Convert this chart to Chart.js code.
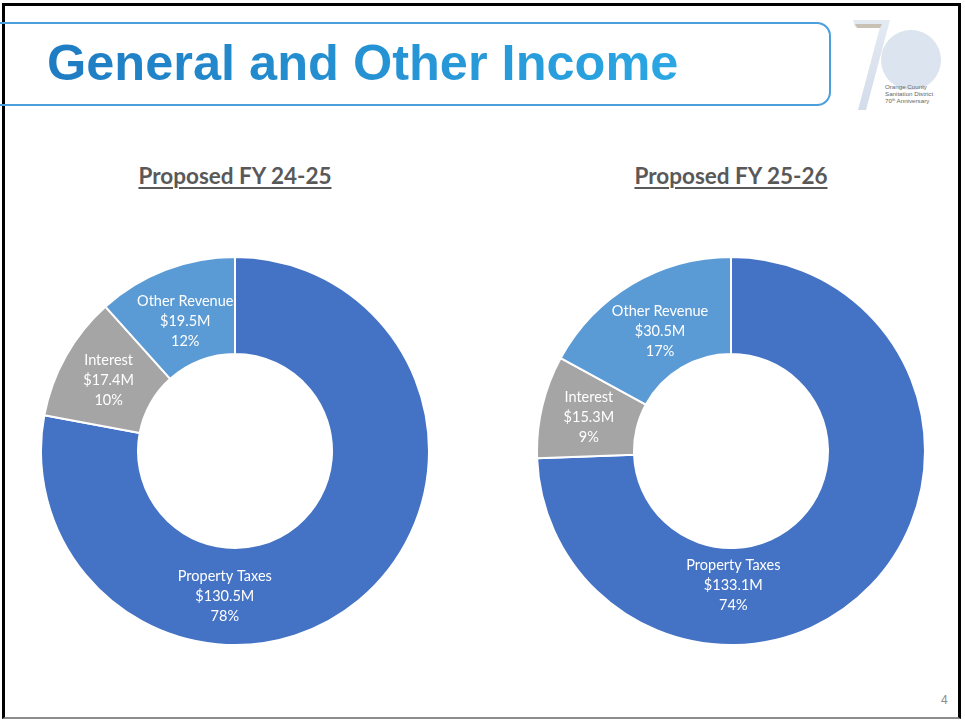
<!DOCTYPE html>
<html>
<head>
<meta charset="utf-8">
<script src="https://cdn.jsdelivr.net/npm/chart.js@4"></script>
<style>
  html, body { margin: 0; padding: 0; background: #fff; }
  body { width: 965px; height: 721px; position: relative; overflow: hidden; font-family: Lato, "Open Sans", sans-serif; }
  .frame { position: absolute; left: 2px; top: 3px; width: 959px; height: 716px; border-left: 3px solid #000; border-top: 3px solid #000; border-right: 3px solid #000; border-bottom: 2px solid #8c8c8c; box-sizing: border-box; }
  .titlebox { position: absolute; left: -20px; top: 22px; width: 851px; height: 84px; border: 2px solid #4a9fdc; border-radius: 14px; box-sizing: border-box; }
  .title { position: absolute; left: 47px; top: 38px; margin: 0; font-family: "Liberation Sans", Arial, sans-serif; font-weight: bold; font-size: 50.5px; line-height: 50px; white-space: nowrap;
    background: linear-gradient(90deg, #1f7cc2, #2ba7e3); -webkit-background-clip: text; background-clip: text; color: transparent; }
  .sub { position: absolute; top: 162px; width: 300px; margin: 0; text-align: center; font-family: Lato, sans-serif; font-weight: bold; font-size: 22.5px; color: #595959; }
  .sub span { text-decoration: underline; text-underline-offset: 3px; text-decoration-thickness: 2px; }
  .chart { position: absolute; width: 390px; height: 390px; }
  .pageno { position: absolute; left: 941px; top: 693px; font-family: "Liberation Sans", sans-serif; font-size: 12px; color: #8c8c8c; }
  .logo { position: absolute; left: 846px; top: 14px; }
</style>
</head>
<body>
<div class="frame"></div>
<div class="titlebox"></div>
<h1 class="title">General and Other Income</h1>

<svg class="logo" width="110" height="100" viewBox="846 14 110 100">
  <defs>
    <linearGradient id="g7" x1="0" y1="0" x2="0" y2="1">
      <stop offset="0" stop-color="#e4eaf2"/>
      <stop offset="1" stop-color="#d3dcea"/>
    </linearGradient>
  </defs>
  <circle cx="911" cy="60" r="30" fill="#dce4ef"/>
  <polygon points="853,20 890,20 866,110 858,110 880,27 855,27" fill="url(#g7)"/>
  <polygon points="855,24 882,24 880,28 857,28" fill="#c9c2b4"/>
  <text x="885" y="89" font-family="Liberation Sans" font-size="6.2" fill="#666">Orange County</text>
  <text x="885" y="96" font-family="Liberation Sans" font-size="6.2" fill="#666">Sanitation District</text>
  <text x="885" y="103" font-family="Liberation Sans" font-size="6.2" fill="#666">70<tspan font-size="4" dy="-2">th</tspan><tspan dy="2"> Anniversary</tspan></text>
</svg>

<div class="sub" style="left:85px;"><span>Proposed FY 24-25</span></div>
<div class="sub" style="left:581px;"><span>Proposed FY 25-26</span></div>

<div class="chart" style="left:40px; top:256px;"><canvas id="donut1"></canvas></div>
<div class="chart" style="left:536px; top:256px;"><canvas id="donut2"></canvas></div>

<div class="pageno">4</div>

<script>
const categorias = ["Property Taxes", "Interest", "Other Revenue"];
const valoresFY2425 = [130.5, 17.4, 19.5];
const valoresFY2526 = [133.1, 15.3, 30.5];

// Cores no estilo Office
const cores = ["#4472C4", "#A5A5A5", "#5B9BD5"];

// Rótulos dentro das fatias (nome, valor, percentual)
const rotulosFatias = {
    id: "rotulosFatias",
    afterDatasetsDraw(chart, args, opts) {
        const ctx = chart.ctx;
        const ds = chart.data.datasets[0];
        const total = ds.data.reduce((a, b) => a + b, 0);
        const meta = chart.getDatasetMeta(0);
        ctx.save();
        ctx.fillStyle = "#ffffff";
        ctx.font = "14.5px Lato, 'Open Sans', sans-serif";
        ctx.textAlign = "center";
        ctx.textBaseline = "middle";
        meta.data.forEach((arc, i) => {
            const p = arc.getProps(["x", "y", "startAngle", "endAngle", "innerRadius", "outerRadius"], true);
            let ang = (p.startAngle + p.endAngle) / 2;
            const ajuste = opts.angulos ? opts.angulos[i] : null;
            if (ajuste != null) ang = (ajuste - 90) * Math.PI / 180;
            const r = (opts.raios && opts.raios[i]) ? opts.raios[i] : (p.innerRadius + p.outerRadius) / 2;
            const x = p.x + r * Math.cos(ang);
            const y = p.y + r * Math.sin(ang);
            const v = ds.data[i];
            const linhas = [
                chart.data.labels[i],
                "$" + v.toFixed(1) + "M",
                Math.round(v / total * 100) + "%"
            ];
            linhas.forEach((t, k) => ctx.fillText(t, x, y + (k - 1) * 20));
        });
        ctx.restore();
    }
};

function criarDonut(id, valores, angulos, raios) {
    const ctx = document.getElementById(id).getContext("2d");
    return new Chart(ctx, {
        type: "doughnut",
        data: {
            labels: categorias,
            datasets: [{
                data: valores,
                backgroundColor: cores,
                borderColor: "#ffffff",
                borderWidth: 2
            }]
        },
        options: {
            responsive: true,
            maintainAspectRatio: false,
            animation: false,
            cutout: "50%",
            layout: { padding: 0 },
            plugins: {
                legend: { display: false },
                tooltip: { enabled: false },
                rotulosFatias: { angulos, raios }
            }
        },
        plugins: [rotulosFatias]
    });
}

criarDonut("donut1", valoresFY2425, [184, null, null], [146, 145, 139]);
criarDonut("donut2", valoresFY2526, [179, null, null], [134, 146, 139]);
</script>
</body>
</html>
